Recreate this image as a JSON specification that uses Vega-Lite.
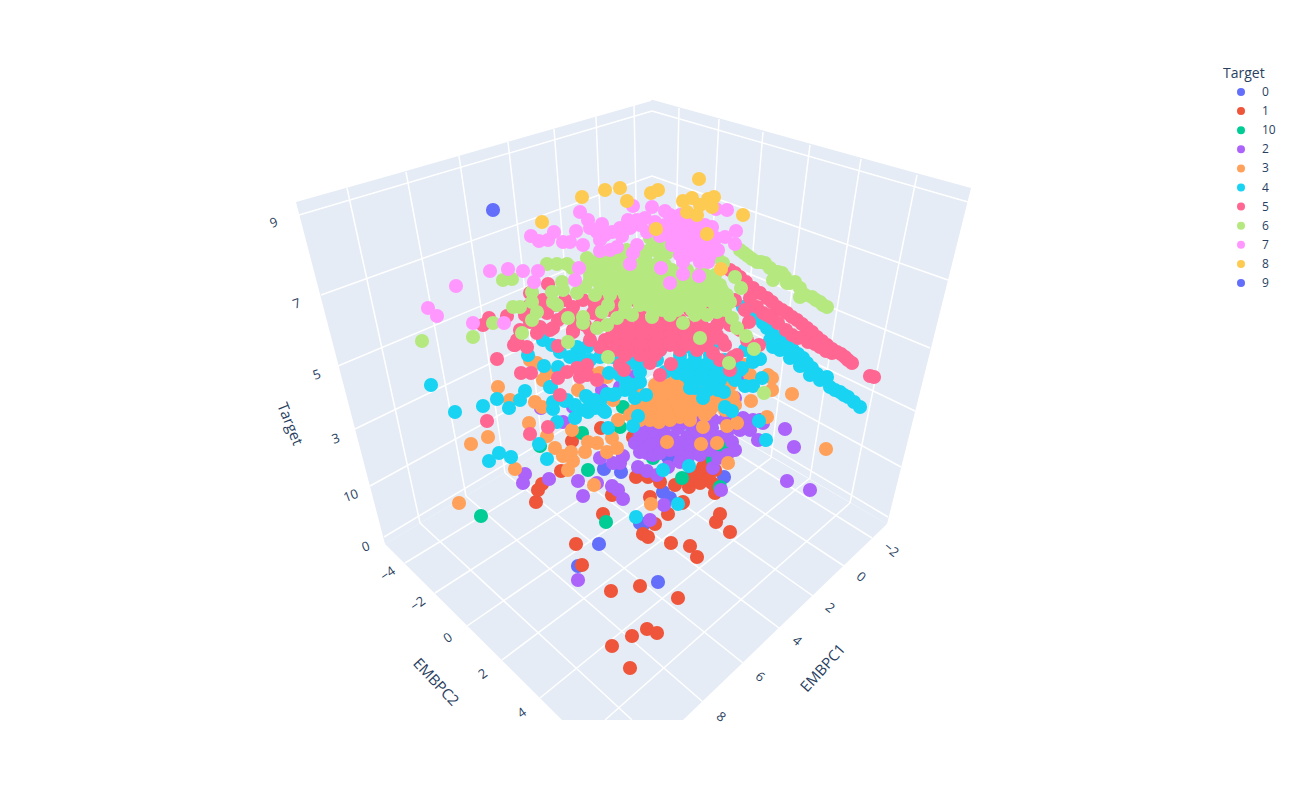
{"$schema":"https://vega.github.io/schema/vega-lite/v6.json","width":1294,"height":800,"autosize":{"type":"fit","contains":"padding"},"padding":0,"background":"white","config":{"view":{"stroke":null},"font":"Open Sans"},
"datasets":{
"panes":[{"pane":"L","x":296,"y":202,"y0":202},{"pane":"L","x":385,"y":177,"y0":544},{"pane":"L","x":651,"y":101,"y0":386},{"pane":"R","x":651,"y":100,"y0":386},{"pane":"R","x":653,"y":100,"y0":387},{"pane":"R","x":887,"y":165,"y0":524},{"pane":"R","x":971,"y":188,"y0":188},{"pane":"F","x":385,"y":544,"y0":544},{"pane":"F","x":562,"y":439,"y0":720},{"pane":"F","x":650,"y":387,"y0":720},{"pane":"F","x":683,"y":406,"y0":720},{"pane":"F","x":887,"y":524,"y0":524}],
"grid":[{"id":"a","x":347,"y":188},{"id":"a","x":420,"y":523},{"id":"b","x":406,"y":172},{"id":"b","x":466,"y":496},{"id":"c","x":459,"y":156},{"id":"c","x":505,"y":473},{"id":"d","x":508,"y":142},{"id":"d","x":543,"y":451},{"id":"e","x":554,"y":129},{"id":"e","x":577,"y":430},{"id":"f","x":596,"y":117},{"id":"f","x":608,"y":410},{"id":"g","x":634,"y":105},{"id":"g","x":640,"y":393},{"id":"h","x":917,"y":175},{"id":"h","x":850,"y":503},{"id":"i","x":861,"y":159},{"id":"i","x":810,"y":478},{"id":"j","x":810,"y":145},{"id":"j","x":771,"y":458},{"id":"k","x":763,"y":132},{"id":"k","x":737,"y":440},{"id":"l","x":719,"y":119},{"id":"l","x":703,"y":420},{"id":"m","x":679,"y":108},{"id":"m","x":672,"y":400},{"id":"n","x":299,"y":215},{"id":"n","x":652,"y":111},{"id":"o","x":321,"y":295},{"id":"o","x":652,"y":176},{"id":"p","x":338,"y":366},{"id":"p","x":652,"y":234},{"id":"q","x":355,"y":429},{"id":"q","x":652,"y":285},{"id":"r","x":370,"y":486},{"id":"r","x":652,"y":331},{"id":"s","x":384,"y":537},{"id":"s","x":652,"y":376},{"id":"t","x":652,"y":111},{"id":"t","x":968,"y":202},{"id":"u","x":652,"y":176},{"id":"u","x":948,"y":280},{"id":"v","x":652,"y":234},{"id":"v","x":930,"y":348},{"id":"w","x":652,"y":285},{"id":"w","x":915,"y":411},{"id":"y","x":652,"y":331},{"id":"y","x":901,"y":467},{"id":"z","x":652,"y":376},{"id":"z","x":888,"y":517},{"id":"a1","x":405,"y":563},{"id":"a1","x":672,"y":400},{"id":"a2","x":435,"y":593},{"id":"a2","x":703,"y":420},{"id":"a3","x":467,"y":626},{"id":"a3","x":737,"y":440},{"id":"a4","x":502,"y":660},{"id":"a4","x":771,"y":458},{"id":"a5","x":540,"y":698},{"id":"a5","x":810,"y":478},{"id":"a6","x":605,"y":720},{"id":"a6","x":850,"y":503},{"id":"b1","x":872,"y":538},{"id":"b1","x":640,"y":393},{"id":"b2","x":844,"y":566},{"id":"b2","x":608,"y":410},{"id":"b3","x":813,"y":596},{"id":"b3","x":577,"y":430},{"id":"b4","x":779,"y":628},{"id":"b4","x":543,"y":451},{"id":"b5","x":743,"y":663},{"id":"b5","x":505,"y":473},{"id":"b6","x":703,"y":702},{"id":"b6","x":466,"y":496},{"id":"b7","x":632,"y":720},{"id":"b7","x":420,"y":523}],
"zticks":[{"x":274,"y":223,"label":"9"},{"x":297,"y":304,"label":"7"},{"x":317,"y":375,"label":"5"},{"x":336,"y":439,"label":"3"},{"x":351,"y":496,"label":"10"},{"x":366,"y":547,"label":"0"}],
"yticks":[{"x":388,"y":574,"label":"−4"},{"x":418,"y":604,"label":"−2"},{"x":448,"y":638,"label":"0"},{"x":483,"y":674,"label":"2"},{"x":522,"y":713,"label":"4"}],
"xticks":[{"x":891,"y":550,"label":"−2"},{"x":861,"y":577,"label":"0"},{"x":830,"y":608,"label":"2"},{"x":797,"y":641,"label":"4"},{"x":760,"y":677,"label":"6"},{"x":721,"y":717,"label":"8"}],
"tz":[{"x":290,"y":424,"label":"Target"}],"ty":[{"x":436,"y":682,"label":"EMBPC2"}],"tx":[{"x":823,"y":668,"label":"EMBPC1"}],
"pts":[
{"x":599,"y":544,"Target":"0"},{"x":578,"y":566,"Target":"0"},{"x":658,"y":582,"Target":"0"},{"x":604,"y":469,"Target":"0"},{"x":621,"y":472,"Target":"0"},{"x":643,"y":525,"Target":"0"},{"x":640,"y":523,"Target":"0"},{"x":724,"y":477,"Target":"0"},{"x":663,"y":492,"Target":"0"},{"x":670,"y":498,"Target":"0"},{"x":690,"y":477,"Target":"0"},{"x":668,"y":457,"Target":"0"},
{"x":536,"y":502,"Target":"1"},{"x":538,"y":490,"Target":"1"},{"x":542,"y":484,"Target":"1"},{"x":561,"y":471,"Target":"1"},{"x":572,"y":441,"Target":"1"},{"x":601,"y":428,"Target":"1"},{"x":636,"y":477,"Target":"1"},{"x":612,"y":495,"Target":"1"},{"x":650,"y":497,"Target":"1"},{"x":603,"y":514,"Target":"1"},{"x":576,"y":544,"Target":"1"},{"x":582,"y":565,"Target":"1"},{"x":611,"y":591,"Target":"1"},{"x":640,"y":586,"Target":"1"},{"x":632,"y":636,"Target":"1"},{"x":647,"y":629,"Target":"1"},{"x":657,"y":633,"Target":"1"},{"x":612,"y":646,"Target":"1"},{"x":630,"y":668,"Target":"1"},{"x":643,"y":534,"Target":"1"},{"x":648,"y":537,"Target":"1"},{"x":655,"y":524,"Target":"1"},{"x":640,"y":433,"Target":"1"},{"x":648,"y":477,"Target":"1"},{"x":678,"y":598,"Target":"1"},{"x":671,"y":543,"Target":"1"},{"x":690,"y":546,"Target":"1"},{"x":697,"y":557,"Target":"1"},{"x":730,"y":532,"Target":"1"},{"x":716,"y":522,"Target":"1"},{"x":720,"y":514,"Target":"1"},{"x":668,"y":514,"Target":"1"},{"x":683,"y":502,"Target":"1"},{"x":715,"y":493,"Target":"1"},{"x":675,"y":485,"Target":"1"},{"x":689,"y":487,"Target":"1"},{"x":700,"y":483,"Target":"1"},{"x":707,"y":475,"Target":"1"},{"x":697,"y":473,"Target":"1"},{"x":708,"y":458,"Target":"1"},{"x":703,"y":467,"Target":"1"},{"x":660,"y":482,"Target":"1"},{"x":682,"y":503,"Target":"1"},{"x":687,"y":480,"Target":"1"},{"x":712,"y":483,"Target":"1"},{"x":633,"y":437,"Target":"1"},{"x":715,"y":470,"Target":"1"},
{"x":481,"y":516,"Target":"10"},{"x":606,"y":522,"Target":"10"},{"x":588,"y":470,"Target":"10"},{"x":582,"y":433,"Target":"10"},{"x":623,"y":407,"Target":"10"},{"x":540,"y":446,"Target":"10"},{"x":653,"y":458,"Target":"10"},{"x":682,"y":478,"Target":"10"},{"x":713,"y":460,"Target":"10"},{"x":720,"y":487,"Target":"10"},{"x":620,"y":427,"Target":"10"},{"x":692,"y":433,"Target":"10"},{"x":675,"y":442,"Target":"10"},{"x":717,"y":448,"Target":"10"},{"x":727,"y":448,"Target":"10"},
{"x":650,"y":437,"Target":"2"},{"x":640,"y":443,"Target":"2"},{"x":635,"y":443,"Target":"2"},{"x":643,"y":430,"Target":"2"},{"x":657,"y":432,"Target":"2"},{"x":660,"y":443,"Target":"2"},{"x":647,"y":453,"Target":"2"},{"x":653,"y":455,"Target":"2"},{"x":670,"y":423,"Target":"2"},{"x":687,"y":423,"Target":"2"},{"x":697,"y":417,"Target":"2"},{"x":713,"y":420,"Target":"2"},{"x":743,"y":418,"Target":"2"},{"x":753,"y":420,"Target":"2"},{"x":763,"y":423,"Target":"2"},{"x":758,"y":440,"Target":"2"},{"x":720,"y":437,"Target":"2"},{"x":732,"y":442,"Target":"2"},{"x":680,"y":452,"Target":"2"},{"x":693,"y":450,"Target":"2"},{"x":707,"y":430,"Target":"2"},{"x":673,"y":437,"Target":"2"},{"x":687,"y":437,"Target":"2"},{"x":727,"y":433,"Target":"2"},{"x":727,"y":455,"Target":"2"},{"x":713,"y":468,"Target":"2"},{"x":721,"y":490,"Target":"2"},{"x":688,"y":457,"Target":"2"},{"x":680,"y":462,"Target":"2"},{"x":668,"y":467,"Target":"2"},{"x":638,"y":467,"Target":"2"},{"x":647,"y":471,"Target":"2"},{"x":657,"y":475,"Target":"2"},{"x":623,"y":456,"Target":"2"},{"x":620,"y":463,"Target":"2"},{"x":613,"y":463,"Target":"2"},{"x":600,"y":458,"Target":"2"},{"x":525,"y":474,"Target":"2"},{"x":523,"y":483,"Target":"2"},{"x":549,"y":479,"Target":"2"},{"x":578,"y":481,"Target":"2"},{"x":583,"y":496,"Target":"2"},{"x":597,"y":483,"Target":"2"},{"x":612,"y":486,"Target":"2"},{"x":618,"y":490,"Target":"2"},{"x":623,"y":499,"Target":"2"},{"x":664,"y":505,"Target":"2"},{"x":650,"y":520,"Target":"2"},{"x":541,"y":408,"Target":"2"},{"x":563,"y":422,"Target":"2"},{"x":602,"y":390,"Target":"2"},{"x":620,"y":387,"Target":"2"},{"x":573,"y":407,"Target":"2"},{"x":633,"y":377,"Target":"2"},{"x":745,"y":377,"Target":"2"},{"x":735,"y":398,"Target":"2"},{"x":785,"y":429,"Target":"2"},{"x":794,"y":447,"Target":"2"},{"x":787,"y":481,"Target":"2"},{"x":810,"y":490,"Target":"2"},{"x":578,"y":580,"Target":"2"},{"x":690,"y":445,"Target":"2"},{"x":700,"y":440,"Target":"2"},{"x":710,"y":450,"Target":"2"},{"x":670,"y":450,"Target":"2"},{"x":660,"y":430,"Target":"2"},{"x":710,"y":437,"Target":"2"},{"x":760,"y":420,"Target":"2"},{"x":745,"y":420,"Target":"2"},{"x":730,"y":425,"Target":"2"},{"x":640,"y":452,"Target":"2"},{"x":648,"y":425,"Target":"2"},{"x":725,"y":420,"Target":"2"},{"x":735,"y":420,"Target":"2"},{"x":640,"y":435,"Target":"2"},{"x":665,"y":435,"Target":"2"},{"x":678,"y":428,"Target":"2"},{"x":695,"y":430,"Target":"2"},{"x":712,"y":428,"Target":"2"},{"x":650,"y":445,"Target":"2"},{"x":680,"y":443,"Target":"2"},{"x":700,"y":455,"Target":"2"},{"x":718,"y":458,"Target":"2"},{"x":660,"y":453,"Target":"2"},{"x":740,"y":430,"Target":"2"},{"x":750,"y":430,"Target":"2"},{"x":735,"y":450,"Target":"2"},
{"x":655,"y":385,"Target":"3"},{"x":670,"y":385,"Target":"3"},{"x":685,"y":385,"Target":"3"},{"x":715,"y":385,"Target":"3"},{"x":730,"y":385,"Target":"3"},{"x":650,"y":395,"Target":"3"},{"x":665,"y":395,"Target":"3"},{"x":680,"y":395,"Target":"3"},{"x":695,"y":395,"Target":"3"},{"x":710,"y":395,"Target":"3"},{"x":725,"y":395,"Target":"3"},{"x":640,"y":405,"Target":"3"},{"x":655,"y":405,"Target":"3"},{"x":670,"y":405,"Target":"3"},{"x":685,"y":405,"Target":"3"},{"x":700,"y":405,"Target":"3"},{"x":715,"y":405,"Target":"3"},{"x":630,"y":415,"Target":"3"},{"x":645,"y":415,"Target":"3"},{"x":660,"y":415,"Target":"3"},{"x":675,"y":415,"Target":"3"},{"x":690,"y":415,"Target":"3"},{"x":705,"y":415,"Target":"3"},{"x":680,"y":417,"Target":"3"},{"x":659,"y":422,"Target":"3"},{"x":707,"y":412,"Target":"3"},{"x":727,"y":426,"Target":"3"},{"x":737,"y":423,"Target":"3"},{"x":703,"y":427,"Target":"3"},{"x":498,"y":387,"Target":"3"},{"x":510,"y":400,"Target":"3"},{"x":535,"y":402,"Target":"3"},{"x":542,"y":407,"Target":"3"},{"x":529,"y":423,"Target":"3"},{"x":488,"y":437,"Target":"3"},{"x":471,"y":444,"Target":"3"},{"x":515,"y":469,"Target":"3"},{"x":459,"y":503,"Target":"3"},{"x":572,"y":430,"Target":"3"},{"x":555,"y":448,"Target":"3"},{"x":547,"y":436,"Target":"3"},{"x":563,"y":456,"Target":"3"},{"x":571,"y":452,"Target":"3"},{"x":573,"y":461,"Target":"3"},{"x":568,"y":470,"Target":"3"},{"x":585,"y":452,"Target":"3"},{"x":588,"y":442,"Target":"3"},{"x":597,"y":443,"Target":"3"},{"x":594,"y":485,"Target":"3"},{"x":607,"y":452,"Target":"3"},{"x":617,"y":448,"Target":"3"},{"x":612,"y":438,"Target":"3"},{"x":618,"y":420,"Target":"3"},{"x":651,"y":504,"Target":"3"},{"x":667,"y":442,"Target":"3"},{"x":701,"y":444,"Target":"3"},{"x":717,"y":443,"Target":"3"},{"x":728,"y":463,"Target":"3"},{"x":826,"y":449,"Target":"3"},{"x":792,"y":394,"Target":"3"},{"x":772,"y":390,"Target":"3"},{"x":751,"y":401,"Target":"3"},{"x":767,"y":417,"Target":"3"},{"x":768,"y":375,"Target":"3"},{"x":772,"y":378,"Target":"3"},{"x":547,"y":373,"Target":"3"},{"x":530,"y":360,"Target":"3"},{"x":607,"y":377,"Target":"3"},{"x":593,"y":375,"Target":"3"},{"x":543,"y":380,"Target":"3"},{"x":537,"y":363,"Target":"3"},{"x":600,"y":373,"Target":"3"},{"x":637,"y":390,"Target":"3"},{"x":730,"y":383,"Target":"3"},{"x":733,"y":397,"Target":"3"},{"x":578,"y":390,"Target":"3"},{"x":613,"y":400,"Target":"3"},{"x":745,"y":365,"Target":"3"},{"x":750,"y":375,"Target":"3"},{"x":660,"y":390,"Target":"3"},{"x":675,"y":390,"Target":"3"},{"x":690,"y":390,"Target":"3"},{"x":705,"y":390,"Target":"3"},{"x":720,"y":390,"Target":"3"},{"x":645,"y":400,"Target":"3"},{"x":660,"y":400,"Target":"3"},{"x":675,"y":400,"Target":"3"},{"x":690,"y":400,"Target":"3"},{"x":705,"y":400,"Target":"3"},{"x":720,"y":400,"Target":"3"},{"x":635,"y":410,"Target":"3"},{"x":650,"y":410,"Target":"3"},{"x":665,"y":410,"Target":"3"},{"x":680,"y":410,"Target":"3"},{"x":695,"y":410,"Target":"3"},{"x":710,"y":410,"Target":"3"},{"x":725,"y":410,"Target":"3"},{"x":640,"y":420,"Target":"3"},{"x":650,"y":420,"Target":"3"},{"x":670,"y":420,"Target":"3"},{"x":690,"y":420,"Target":"3"},{"x":735,"y":405,"Target":"3"},{"x":660,"y":380,"Target":"3"},{"x":675,"y":380,"Target":"3"},{"x":640,"y":395,"Target":"3"},
{"x":743,"y":307,"Target":"4"},{"x":753,"y":313,"Target":"4"},{"x":763,"y":323,"Target":"4"},{"x":772,"y":333,"Target":"4"},{"x":782,"y":342,"Target":"4"},{"x":793,"y":350,"Target":"4"},{"x":803,"y":358,"Target":"4"},{"x":812,"y":368,"Target":"4"},{"x":820,"y":380,"Target":"4"},{"x":827,"y":377,"Target":"4"},{"x":830,"y":387,"Target":"4"},{"x":840,"y":392,"Target":"4"},{"x":848,"y":397,"Target":"4"},{"x":860,"y":407,"Target":"4"},{"x":431,"y":385,"Target":"4"},{"x":455,"y":412,"Target":"4"},{"x":483,"y":406,"Target":"4"},{"x":497,"y":399,"Target":"4"},{"x":509,"y":408,"Target":"4"},{"x":520,"y":400,"Target":"4"},{"x":525,"y":391,"Target":"4"},{"x":489,"y":461,"Target":"4"},{"x":499,"y":453,"Target":"4"},{"x":511,"y":457,"Target":"4"},{"x":539,"y":444,"Target":"4"},{"x":547,"y":459,"Target":"4"},{"x":636,"y":517,"Target":"4"},{"x":553,"y":409,"Target":"4"},{"x":553,"y":402,"Target":"4"},{"x":557,"y":422,"Target":"4"},{"x":565,"y":401,"Target":"4"},{"x":551,"y":387,"Target":"4"},{"x":586,"y":396,"Target":"4"},{"x":575,"y":418,"Target":"4"},{"x":580,"y":410,"Target":"4"},{"x":588,"y":412,"Target":"4"},{"x":603,"y":410,"Target":"4"},{"x":600,"y":402,"Target":"4"},{"x":607,"y":394,"Target":"4"},{"x":615,"y":394,"Target":"4"},{"x":626,"y":382,"Target":"4"},{"x":635,"y":398,"Target":"4"},{"x":646,"y":395,"Target":"4"},{"x":640,"y":382,"Target":"4"},{"x":638,"y":416,"Target":"4"},{"x":633,"y":426,"Target":"4"},{"x":608,"y":428,"Target":"4"},{"x":609,"y":373,"Target":"4"},{"x":544,"y":366,"Target":"4"},{"x":528,"y":355,"Target":"4"},{"x":663,"y":470,"Target":"4"},{"x":689,"y":466,"Target":"4"},{"x":678,"y":504,"Target":"4"},{"x":766,"y":440,"Target":"4"},{"x":759,"y":421,"Target":"4"},{"x":732,"y":411,"Target":"4"},{"x":725,"y":407,"Target":"4"},{"x":762,"y":378,"Target":"4"},{"x":753,"y":386,"Target":"4"},{"x":745,"y":386,"Target":"4"},{"x":724,"y":392,"Target":"4"},{"x":703,"y":398,"Target":"4"},{"x":690,"y":388,"Target":"4"},{"x":680,"y":360,"Target":"4"},{"x":695,"y":360,"Target":"4"},{"x":710,"y":360,"Target":"4"},{"x":725,"y":360,"Target":"4"},{"x":680,"y":370,"Target":"4"},{"x":695,"y":370,"Target":"4"},{"x":710,"y":370,"Target":"4"},{"x":725,"y":370,"Target":"4"},{"x":740,"y":370,"Target":"4"},{"x":690,"y":380,"Target":"4"},{"x":705,"y":380,"Target":"4"},{"x":720,"y":380,"Target":"4"},{"x":735,"y":380,"Target":"4"},{"x":695,"y":388,"Target":"4"},{"x":708,"y":390,"Target":"4"},{"x":718,"y":390,"Target":"4"},{"x":677,"y":373,"Target":"4"},{"x":753,"y":362,"Target":"4"},{"x":742,"y":368,"Target":"4"},{"x":550,"y":387,"Target":"4"},{"x":558,"y":367,"Target":"4"},{"x":570,"y":357,"Target":"4"},{"x":587,"y":347,"Target":"4"},{"x":600,"y":357,"Target":"4"},{"x":590,"y":360,"Target":"4"},{"x":580,"y":357,"Target":"4"},{"x":577,"y":347,"Target":"4"},{"x":613,"y":357,"Target":"4"},{"x":633,"y":363,"Target":"4"},{"x":657,"y":360,"Target":"4"},{"x":690,"y":347,"Target":"4"},{"x":713,"y":347,"Target":"4"},{"x":552,"y":345,"Target":"4"},{"x":543,"y":340,"Target":"4"},{"x":773,"y":347,"Target":"4"},{"x":587,"y":397,"Target":"4"},{"x":613,"y":395,"Target":"4"},{"x":595,"y":408,"Target":"4"},{"x":605,"y":412,"Target":"4"},{"x":567,"y":400,"Target":"4"},{"x":753,"y":360,"Target":"4"},{"x":760,"y":359,"Target":"4"},{"x":660,"y":350,"Target":"4"},{"x":640,"y":372,"Target":"4"},{"x":665,"y":372,"Target":"4"},{"x":675,"y":365,"Target":"4"},{"x":690,"y":365,"Target":"4"},{"x":705,"y":365,"Target":"4"},{"x":720,"y":365,"Target":"4"},{"x":735,"y":365,"Target":"4"},{"x":685,"y":375,"Target":"4"},{"x":700,"y":375,"Target":"4"},{"x":715,"y":375,"Target":"4"},{"x":730,"y":375,"Target":"4"},{"x":695,"y":382,"Target":"4"},{"x":710,"y":384,"Target":"4"},{"x":680,"y":355,"Target":"4"},{"x":695,"y":355,"Target":"4"},{"x":710,"y":355,"Target":"4"},{"x":748,"y":310,"Target":"4"},{"x":758,"y":318,"Target":"4"},{"x":767,"y":328,"Target":"4"},{"x":777,"y":337,"Target":"4"},{"x":787,"y":346,"Target":"4"},{"x":798,"y":354,"Target":"4"},{"x":807,"y":363,"Target":"4"},{"x":817,"y":374,"Target":"4"},{"x":824,"y":378,"Target":"4"},{"x":835,"y":390,"Target":"4"},{"x":844,"y":395,"Target":"4"},{"x":854,"y":402,"Target":"4"},{"x":770,"y":340,"Target":"4"},{"x":780,"y":350,"Target":"4"},{"x":790,"y":358,"Target":"4"},{"x":800,"y":366,"Target":"4"},{"x":810,"y":375,"Target":"4"},{"x":595,"y":400,"Target":"4"},{"x":590,"y":405,"Target":"4"},{"x":575,"y":405,"Target":"4"},{"x":625,"y":390,"Target":"4"},{"x":633,"y":385,"Target":"4"},{"x":610,"y":355,"Target":"4"},{"x":560,"y":352,"Target":"4"},{"x":640,"y":360,"Target":"4"},{"x":620,"y":375,"Target":"4"},{"x":745,"y":350,"Target":"4"},
{"x":730,"y":270,"Target":"5"},{"x":740,"y":277,"Target":"5"},{"x":753,"y":288,"Target":"5"},{"x":767,"y":298,"Target":"5"},{"x":777,"y":307,"Target":"5"},{"x":787,"y":313,"Target":"5"},{"x":797,"y":320,"Target":"5"},{"x":807,"y":328,"Target":"5"},{"x":817,"y":337,"Target":"5"},{"x":827,"y":345,"Target":"5"},{"x":837,"y":352,"Target":"5"},{"x":845,"y":357,"Target":"5"},{"x":852,"y":363,"Target":"5"},{"x":870,"y":376,"Target":"5"},{"x":874,"y":377,"Target":"5"},{"x":763,"y":313,"Target":"5"},{"x":772,"y":318,"Target":"5"},{"x":792,"y":335,"Target":"5"},{"x":803,"y":337,"Target":"5"},{"x":820,"y":347,"Target":"5"},{"x":832,"y":353,"Target":"5"},{"x":749,"y":322,"Target":"5"},{"x":759,"y":345,"Target":"5"},{"x":497,"y":359,"Target":"5"},{"x":521,"y":373,"Target":"5"},{"x":531,"y":373,"Target":"5"},{"x":483,"y":325,"Target":"5"},{"x":489,"y":318,"Target":"5"},{"x":507,"y":316,"Target":"5"},{"x":548,"y":284,"Target":"5"},{"x":514,"y":345,"Target":"5"},{"x":527,"y":347,"Target":"5"},{"x":558,"y":346,"Target":"5"},{"x":487,"y":421,"Target":"5"},{"x":530,"y":434,"Target":"5"},{"x":548,"y":427,"Target":"5"},{"x":560,"y":395,"Target":"5"},{"x":530,"y":293,"Target":"5"},{"x":543,"y":300,"Target":"5"},{"x":607,"y":290,"Target":"5"},{"x":617,"y":293,"Target":"5"},{"x":583,"y":300,"Target":"5"},{"x":573,"y":307,"Target":"5"},{"x":593,"y":313,"Target":"5"},{"x":547,"y":313,"Target":"5"},{"x":540,"y":327,"Target":"5"},{"x":553,"y":328,"Target":"5"},{"x":573,"y":330,"Target":"5"},{"x":603,"y":300,"Target":"5"},{"x":620,"y":297,"Target":"5"},{"x":515,"y":345,"Target":"5"},{"x":603,"y":347,"Target":"5"},{"x":617,"y":345,"Target":"5"},{"x":632,"y":350,"Target":"5"},{"x":647,"y":352,"Target":"5"},{"x":650,"y":363,"Target":"5"},{"x":660,"y":375,"Target":"5"},{"x":671,"y":364,"Target":"5"},{"x":677,"y":343,"Target":"5"},{"x":697,"y":350,"Target":"5"},{"x":713,"y":353,"Target":"5"},{"x":720,"y":360,"Target":"5"},{"x":737,"y":355,"Target":"5"},{"x":730,"y":370,"Target":"5"},{"x":620,"y":365,"Target":"5"},{"x":624,"y":370,"Target":"5"},{"x":597,"y":380,"Target":"5"},{"x":587,"y":365,"Target":"5"},{"x":580,"y":377,"Target":"5"},{"x":577,"y":368,"Target":"5"},{"x":567,"y":372,"Target":"5"},{"x":558,"y":378,"Target":"5"},{"x":587,"y":375,"Target":"5"},{"x":620,"y":330,"Target":"5"},{"x":635,"y":330,"Target":"5"},{"x":650,"y":330,"Target":"5"},{"x":665,"y":330,"Target":"5"},{"x":680,"y":330,"Target":"5"},{"x":695,"y":330,"Target":"5"},{"x":710,"y":330,"Target":"5"},{"x":590,"y":340,"Target":"5"},{"x":605,"y":340,"Target":"5"},{"x":620,"y":340,"Target":"5"},{"x":635,"y":340,"Target":"5"},{"x":650,"y":340,"Target":"5"},{"x":665,"y":340,"Target":"5"},{"x":680,"y":340,"Target":"5"},{"x":695,"y":340,"Target":"5"},{"x":710,"y":340,"Target":"5"},{"x":722,"y":340,"Target":"5"},{"x":615,"y":350,"Target":"5"},{"x":660,"y":350,"Target":"5"},{"x":680,"y":350,"Target":"5"},{"x":517,"y":340,"Target":"5"},{"x":537,"y":333,"Target":"5"},{"x":550,"y":330,"Target":"5"},{"x":573,"y":332,"Target":"5"},{"x":600,"y":347,"Target":"5"},{"x":532,"y":295,"Target":"5"},{"x":540,"y":310,"Target":"5"},{"x":600,"y":313,"Target":"5"},{"x":565,"y":300,"Target":"5"},{"x":565,"y":315,"Target":"5"},{"x":585,"y":325,"Target":"5"},{"x":610,"y":310,"Target":"5"},{"x":640,"y":310,"Target":"5"},{"x":660,"y":310,"Target":"5"},{"x":620,"y":320,"Target":"5"},{"x":640,"y":320,"Target":"5"},{"x":660,"y":320,"Target":"5"},{"x":680,"y":320,"Target":"5"},{"x":700,"y":320,"Target":"5"},{"x":720,"y":320,"Target":"5"},{"x":735,"y":300,"Target":"5"},{"x":745,"y":310,"Target":"5"},{"x":740,"y":330,"Target":"5"},{"x":747,"y":340,"Target":"5"},{"x":733,"y":357,"Target":"5"},{"x":635,"y":300,"Target":"5"},{"x":720,"y":290,"Target":"5"},{"x":612,"y":335,"Target":"5"},{"x":627,"y":335,"Target":"5"},{"x":642,"y":335,"Target":"5"},{"x":657,"y":335,"Target":"5"},{"x":672,"y":335,"Target":"5"},{"x":687,"y":335,"Target":"5"},{"x":702,"y":335,"Target":"5"},{"x":717,"y":335,"Target":"5"},{"x":625,"y":345,"Target":"5"},{"x":640,"y":345,"Target":"5"},{"x":655,"y":345,"Target":"5"},{"x":670,"y":345,"Target":"5"},{"x":685,"y":345,"Target":"5"},{"x":705,"y":345,"Target":"5"},{"x":725,"y":345,"Target":"5"},{"x":625,"y":355,"Target":"5"},{"x":640,"y":355,"Target":"5"},{"x":655,"y":355,"Target":"5"},{"x":612,"y":325,"Target":"5"},{"x":627,"y":325,"Target":"5"},{"x":642,"y":325,"Target":"5"},{"x":657,"y":325,"Target":"5"},{"x":672,"y":325,"Target":"5"},{"x":687,"y":325,"Target":"5"},{"x":702,"y":325,"Target":"5"},{"x":717,"y":325,"Target":"5"},{"x":730,"y":325,"Target":"5"},{"x":555,"y":305,"Target":"5"},{"x":575,"y":318,"Target":"5"},{"x":595,"y":305,"Target":"5"},{"x":615,"y":305,"Target":"5"},{"x":690,"y":310,"Target":"5"},{"x":710,"y":310,"Target":"5"},{"x":530,"y":305,"Target":"5"},{"x":525,"y":315,"Target":"5"},{"x":520,"y":330,"Target":"5"},{"x":558,"y":320,"Target":"5"},{"x":590,"y":330,"Target":"5"},{"x":600,"y":325,"Target":"5"},{"x":530,"y":322,"Target":"5"},{"x":735,"y":273,"Target":"5"},{"x":746,"y":282,"Target":"5"},{"x":760,"y":293,"Target":"5"},{"x":772,"y":302,"Target":"5"},{"x":782,"y":310,"Target":"5"},{"x":792,"y":317,"Target":"5"},{"x":802,"y":324,"Target":"5"},{"x":812,"y":332,"Target":"5"},{"x":822,"y":341,"Target":"5"},{"x":832,"y":349,"Target":"5"},{"x":841,"y":354,"Target":"5"},{"x":848,"y":360,"Target":"5"},{"x":757,"y":307,"Target":"5"},{"x":767,"y":315,"Target":"5"},{"x":778,"y":323,"Target":"5"},{"x":786,"y":330,"Target":"5"},{"x":798,"y":338,"Target":"5"},{"x":808,"y":342,"Target":"5"},{"x":815,"y":344,"Target":"5"},{"x":826,"y":351,"Target":"5"},{"x":750,"y":298,"Target":"5"},
{"x":422,"y":341,"Target":"6"},{"x":473,"y":337,"Target":"6"},{"x":503,"y":280,"Target":"6"},{"x":512,"y":279,"Target":"6"},{"x":493,"y":323,"Target":"6"},{"x":522,"y":333,"Target":"6"},{"x":568,"y":342,"Target":"6"},{"x":608,"y":357,"Target":"6"},{"x":740,"y":250,"Target":"6"},{"x":748,"y":256,"Target":"6"},{"x":757,"y":262,"Target":"6"},{"x":765,"y":263,"Target":"6"},{"x":775,"y":272,"Target":"6"},{"x":782,"y":273,"Target":"6"},{"x":773,"y":280,"Target":"6"},{"x":787,"y":283,"Target":"6"},{"x":795,"y":282,"Target":"6"},{"x":800,"y":288,"Target":"6"},{"x":800,"y":297,"Target":"6"},{"x":812,"y":297,"Target":"6"},{"x":820,"y":302,"Target":"6"},{"x":827,"y":307,"Target":"6"},{"x":735,"y":277,"Target":"6"},{"x":741,"y":288,"Target":"6"},{"x":730,"y":302,"Target":"6"},{"x":732,"y":318,"Target":"6"},{"x":737,"y":328,"Target":"6"},{"x":746,"y":336,"Target":"6"},{"x":754,"y":349,"Target":"6"},{"x":729,"y":363,"Target":"6"},{"x":700,"y":338,"Target":"6"},{"x":683,"y":323,"Target":"6"},{"x":652,"y":317,"Target":"6"},{"x":707,"y":315,"Target":"6"},{"x":764,"y":393,"Target":"6"},{"x":547,"y":264,"Target":"6"},{"x":557,"y":264,"Target":"6"},{"x":567,"y":264,"Target":"6"},{"x":572,"y":268,"Target":"6"},{"x":587,"y":258,"Target":"6"},{"x":600,"y":258,"Target":"6"},{"x":617,"y":258,"Target":"6"},{"x":627,"y":250,"Target":"6"},{"x":650,"y":238,"Target":"6"},{"x":655,"y":250,"Target":"6"},{"x":667,"y":253,"Target":"6"},{"x":717,"y":257,"Target":"6"},{"x":723,"y":263,"Target":"6"},{"x":590,"y":265,"Target":"6"},{"x":605,"y":265,"Target":"6"},{"x":620,"y":265,"Target":"6"},{"x":635,"y":265,"Target":"6"},{"x":650,"y":265,"Target":"6"},{"x":665,"y":265,"Target":"6"},{"x":590,"y":275,"Target":"6"},{"x":600,"y":275,"Target":"6"},{"x":615,"y":275,"Target":"6"},{"x":630,"y":275,"Target":"6"},{"x":645,"y":275,"Target":"6"},{"x":660,"y":275,"Target":"6"},{"x":675,"y":275,"Target":"6"},{"x":690,"y":275,"Target":"6"},{"x":705,"y":275,"Target":"6"},{"x":715,"y":275,"Target":"6"},{"x":600,"y":285,"Target":"6"},{"x":615,"y":285,"Target":"6"},{"x":630,"y":285,"Target":"6"},{"x":645,"y":285,"Target":"6"},{"x":660,"y":285,"Target":"6"},{"x":675,"y":285,"Target":"6"},{"x":690,"y":285,"Target":"6"},{"x":705,"y":285,"Target":"6"},{"x":720,"y":285,"Target":"6"},{"x":610,"y":295,"Target":"6"},{"x":625,"y":295,"Target":"6"},{"x":640,"y":295,"Target":"6"},{"x":655,"y":295,"Target":"6"},{"x":670,"y":295,"Target":"6"},{"x":685,"y":295,"Target":"6"},{"x":700,"y":295,"Target":"6"},{"x":715,"y":295,"Target":"6"},{"x":727,"y":295,"Target":"6"},{"x":625,"y":305,"Target":"6"},{"x":640,"y":305,"Target":"6"},{"x":655,"y":305,"Target":"6"},{"x":670,"y":305,"Target":"6"},{"x":685,"y":305,"Target":"6"},{"x":700,"y":305,"Target":"6"},{"x":715,"y":305,"Target":"6"},{"x":695,"y":315,"Target":"6"},{"x":725,"y":310,"Target":"6"},{"x":532,"y":292,"Target":"6"},{"x":532,"y":302,"Target":"6"},{"x":562,"y":282,"Target":"6"},{"x":552,"y":292,"Target":"6"},{"x":563,"y":290,"Target":"6"},{"x":553,"y":302,"Target":"6"},{"x":557,"y":305,"Target":"6"},{"x":577,"y":293,"Target":"6"},{"x":595,"y":295,"Target":"6"},{"x":585,"y":287,"Target":"6"},{"x":513,"y":307,"Target":"6"},{"x":520,"y":307,"Target":"6"},{"x":537,"y":312,"Target":"6"},{"x":532,"y":320,"Target":"6"},{"x":568,"y":318,"Target":"6"},{"x":583,"y":317,"Target":"6"},{"x":583,"y":323,"Target":"6"},{"x":597,"y":328,"Target":"6"},{"x":607,"y":325,"Target":"6"},{"x":617,"y":318,"Target":"6"},{"x":625,"y":312,"Target":"6"},{"x":632,"y":315,"Target":"6"},{"x":608,"y":305,"Target":"6"},{"x":602,"y":312,"Target":"6"},{"x":648,"y":305,"Target":"6"},{"x":630,"y":298,"Target":"6"},{"x":670,"y":315,"Target":"6"},{"x":717,"y":312,"Target":"6"},{"x":597,"y":270,"Target":"6"},{"x":612,"y":270,"Target":"6"},{"x":627,"y":270,"Target":"6"},{"x":642,"y":270,"Target":"6"},{"x":657,"y":270,"Target":"6"},{"x":672,"y":270,"Target":"6"},{"x":687,"y":270,"Target":"6"},{"x":702,"y":270,"Target":"6"},{"x":590,"y":280,"Target":"6"},{"x":607,"y":280,"Target":"6"},{"x":622,"y":280,"Target":"6"},{"x":637,"y":280,"Target":"6"},{"x":652,"y":280,"Target":"6"},{"x":667,"y":280,"Target":"6"},{"x":682,"y":280,"Target":"6"},{"x":697,"y":280,"Target":"6"},{"x":712,"y":280,"Target":"6"},{"x":607,"y":290,"Target":"6"},{"x":622,"y":290,"Target":"6"},{"x":637,"y":290,"Target":"6"},{"x":652,"y":290,"Target":"6"},{"x":667,"y":290,"Target":"6"},{"x":682,"y":290,"Target":"6"},{"x":697,"y":290,"Target":"6"},{"x":712,"y":290,"Target":"6"},{"x":722,"y":290,"Target":"6"},{"x":647,"y":300,"Target":"6"},{"x":662,"y":300,"Target":"6"},{"x":677,"y":300,"Target":"6"},{"x":692,"y":300,"Target":"6"},{"x":707,"y":300,"Target":"6"},{"x":722,"y":300,"Target":"6"},{"x":662,"y":310,"Target":"6"},{"x":677,"y":310,"Target":"6"},{"x":692,"y":310,"Target":"6"},{"x":610,"y":260,"Target":"6"},{"x":630,"y":258,"Target":"6"},{"x":645,"y":258,"Target":"6"},{"x":660,"y":260,"Target":"6"},{"x":640,"y":250,"Target":"6"},{"x":650,"y":250,"Target":"6"},{"x":660,"y":245,"Target":"6"},{"x":744,"y":253,"Target":"6"},{"x":752,"y":259,"Target":"6"},{"x":761,"y":262,"Target":"6"},{"x":770,"y":268,"Target":"6"},{"x":778,"y":272,"Target":"6"},{"x":790,"y":283,"Target":"6"},{"x":805,"y":295,"Target":"6"},{"x":816,"y":300,"Target":"6"},{"x":823,"y":305,"Target":"6"},{"x":785,"y":277,"Target":"6"},
{"x":531,"y":236,"Target":"7"},{"x":539,"y":241,"Target":"7"},{"x":548,"y":240,"Target":"7"},{"x":554,"y":232,"Target":"7"},{"x":563,"y":242,"Target":"7"},{"x":570,"y":242,"Target":"7"},{"x":576,"y":231,"Target":"7"},{"x":583,"y":245,"Target":"7"},{"x":580,"y":212,"Target":"7"},{"x":588,"y":220,"Target":"7"},{"x":602,"y":224,"Target":"7"},{"x":597,"y":232,"Target":"7"},{"x":600,"y":240,"Target":"7"},{"x":600,"y":251,"Target":"7"},{"x":610,"y":250,"Target":"7"},{"x":617,"y":247,"Target":"7"},{"x":620,"y":228,"Target":"7"},{"x":628,"y":220,"Target":"7"},{"x":633,"y":206,"Target":"7"},{"x":652,"y":207,"Target":"7"},{"x":665,"y":211,"Target":"7"},{"x":645,"y":218,"Target":"7"},{"x":637,"y":220,"Target":"7"},{"x":647,"y":232,"Target":"7"},{"x":637,"y":245,"Target":"7"},{"x":633,"y":253,"Target":"7"},{"x":630,"y":264,"Target":"7"},{"x":661,"y":268,"Target":"7"},{"x":683,"y":274,"Target":"7"},{"x":670,"y":283,"Target":"7"},{"x":699,"y":276,"Target":"7"},{"x":727,"y":210,"Target":"7"},{"x":716,"y":209,"Target":"7"},{"x":712,"y":227,"Target":"7"},{"x":736,"y":231,"Target":"7"},{"x":725,"y":237,"Target":"7"},{"x":735,"y":244,"Target":"7"},{"x":670,"y":215,"Target":"7"},{"x":680,"y":215,"Target":"7"},{"x":690,"y":215,"Target":"7"},{"x":665,"y":225,"Target":"7"},{"x":675,"y":225,"Target":"7"},{"x":685,"y":225,"Target":"7"},{"x":695,"y":225,"Target":"7"},{"x":705,"y":225,"Target":"7"},{"x":668,"y":235,"Target":"7"},{"x":678,"y":235,"Target":"7"},{"x":688,"y":235,"Target":"7"},{"x":698,"y":235,"Target":"7"},{"x":708,"y":235,"Target":"7"},{"x":672,"y":245,"Target":"7"},{"x":682,"y":245,"Target":"7"},{"x":692,"y":245,"Target":"7"},{"x":702,"y":245,"Target":"7"},{"x":712,"y":245,"Target":"7"},{"x":680,"y":255,"Target":"7"},{"x":690,"y":255,"Target":"7"},{"x":700,"y":255,"Target":"7"},{"x":710,"y":255,"Target":"7"},{"x":683,"y":262,"Target":"7"},{"x":700,"y":262,"Target":"7"},{"x":708,"y":262,"Target":"7"},{"x":456,"y":286,"Target":"7"},{"x":428,"y":308,"Target":"7"},{"x":437,"y":316,"Target":"7"},{"x":473,"y":323,"Target":"7"},{"x":504,"y":323,"Target":"7"},{"x":490,"y":271,"Target":"7"},{"x":508,"y":269,"Target":"7"},{"x":523,"y":271,"Target":"7"},{"x":538,"y":271,"Target":"7"},{"x":534,"y":282,"Target":"7"},{"x":579,"y":268,"Target":"7"},{"x":575,"y":280,"Target":"7"},{"x":640,"y":225,"Target":"7"},{"x":630,"y":228,"Target":"7"},{"x":612,"y":232,"Target":"7"},{"x":605,"y":235,"Target":"7"},{"x":622,"y":236,"Target":"7"},{"x":655,"y":222,"Target":"7"},{"x":660,"y":236,"Target":"7"},{"x":672,"y":220,"Target":"7"},{"x":682,"y":220,"Target":"7"},{"x":692,"y":220,"Target":"7"},{"x":702,"y":230,"Target":"7"},{"x":716,"y":238,"Target":"7"},{"x":718,"y":250,"Target":"7"},{"x":590,"y":228,"Target":"7"},
{"x":542,"y":222,"Target":"8"},{"x":582,"y":197,"Target":"8"},{"x":605,"y":190,"Target":"8"},{"x":620,"y":188,"Target":"8"},{"x":627,"y":201,"Target":"8"},{"x":651,"y":193,"Target":"8"},{"x":658,"y":190,"Target":"8"},{"x":699,"y":179,"Target":"8"},{"x":683,"y":201,"Target":"8"},{"x":692,"y":198,"Target":"8"},{"x":687,"y":212,"Target":"8"},{"x":697,"y":215,"Target":"8"},{"x":708,"y":199,"Target":"8"},{"x":714,"y":197,"Target":"8"},{"x":712,"y":207,"Target":"8"},{"x":700,"y":205,"Target":"8"},{"x":743,"y":215,"Target":"8"},{"x":656,"y":229,"Target":"8"},{"x":707,"y":234,"Target":"8"},{"x":721,"y":269,"Target":"8"},
{"x":493,"y":210,"Target":"9"}
]},
"layer":[
{"data":{"name":"panes"},"mark":{"type":"area","color":"#E5ECF6","opacity":1,"clip":false},"encoding":{"x":{"field":"x","type":"quantitative","scale":{"domain":[0,1294],"nice":false,"zero":false},"axis":null},"y":{"field":"y","type":"quantitative","scale":{"domain":[800,0],"nice":false,"zero":false},"axis":null},"y2":{"field":"y0"},"detail":{"field":"pane"}}},
{"data":{"name":"grid"},"mark":{"type":"line","color":"white","strokeWidth":1.5},"encoding":{"x":{"field":"x","type":"quantitative","axis":null},"y":{"field":"y","type":"quantitative","axis":null},"detail":{"field":"id"}}},
{"data":{"name":"pts"},"mark":{"type":"point","filled":true,"size":200,"opacity":1,"strokeWidth":0},"encoding":{"x":{"field":"x","type":"quantitative","axis":null},"y":{"field":"y","type":"quantitative","axis":null},"color":{"field":"Target","type":"nominal","scale":{"domain":["0","1","10","2","3","4","5","6","7","8","9"],"range":["#636EFA","#EF553B","#00CC96","#AB63FA","#FFA15A","#19D3F3","#FF6692","#B6E880","#FF97FF","#FECB52","#636EFA"]},"sort":null,"legend":{"orient":"none","legendX":1223,"legendY":67,"title":"Target","titleFontSize":14,"titleFontWeight":"normal","titleColor":"#2a3f5f","titleFont":"Open Sans","titlePadding":5,"labelFont":"Open Sans","labelFontSize":12,"labelColor":"#2a3f5f","labelOffset":15,"symbolType":"circle","symbolSize":64,"symbolStrokeWidth":0,"symbolOffset":12,"rowPadding":7.1,"padding":0}}}},
{"data":{"name":"zticks"},"mark":{"type":"text","font":"Open Sans","fontSize":13,"color":"#2a3f5f","angle":340,"align":"center","baseline":"middle"},"encoding":{"x":{"field":"x","type":"quantitative","axis":null},"y":{"field":"y","type":"quantitative","axis":null},"text":{"field":"label"}}},
{"data":{"name":"yticks"},"mark":{"type":"text","font":"Open Sans","fontSize":13,"color":"#2a3f5f","angle":325,"align":"center","baseline":"middle"},"encoding":{"x":{"field":"x","type":"quantitative","axis":null},"y":{"field":"y","type":"quantitative","axis":null},"text":{"field":"label"}}},
{"data":{"name":"xticks"},"mark":{"type":"text","font":"Open Sans","fontSize":13,"color":"#2a3f5f","angle":40,"align":"center","baseline":"middle"},"encoding":{"x":{"field":"x","type":"quantitative","axis":null},"y":{"field":"y","type":"quantitative","axis":null},"text":{"field":"label"}}},
{"data":{"name":"tz"},"mark":{"type":"text","font":"Open Sans","fontSize":15,"color":"#2a3f5f","angle":68,"align":"center","baseline":"middle"},"encoding":{"x":{"field":"x","type":"quantitative","axis":null},"y":{"field":"y","type":"quantitative","axis":null},"text":{"field":"label"}}},
{"data":{"name":"ty"},"mark":{"type":"text","font":"Open Sans","fontSize":15,"color":"#2a3f5f","angle":47,"align":"center","baseline":"middle"},"encoding":{"x":{"field":"x","type":"quantitative","axis":null},"y":{"field":"y","type":"quantitative","axis":null},"text":{"field":"label"}}},
{"data":{"name":"tx"},"mark":{"type":"text","font":"Open Sans","fontSize":15,"color":"#2a3f5f","angle":312,"align":"center","baseline":"middle"},"encoding":{"x":{"field":"x","type":"quantitative","axis":null},"y":{"field":"y","type":"quantitative","axis":null},"text":{"field":"label"}}}
]}
